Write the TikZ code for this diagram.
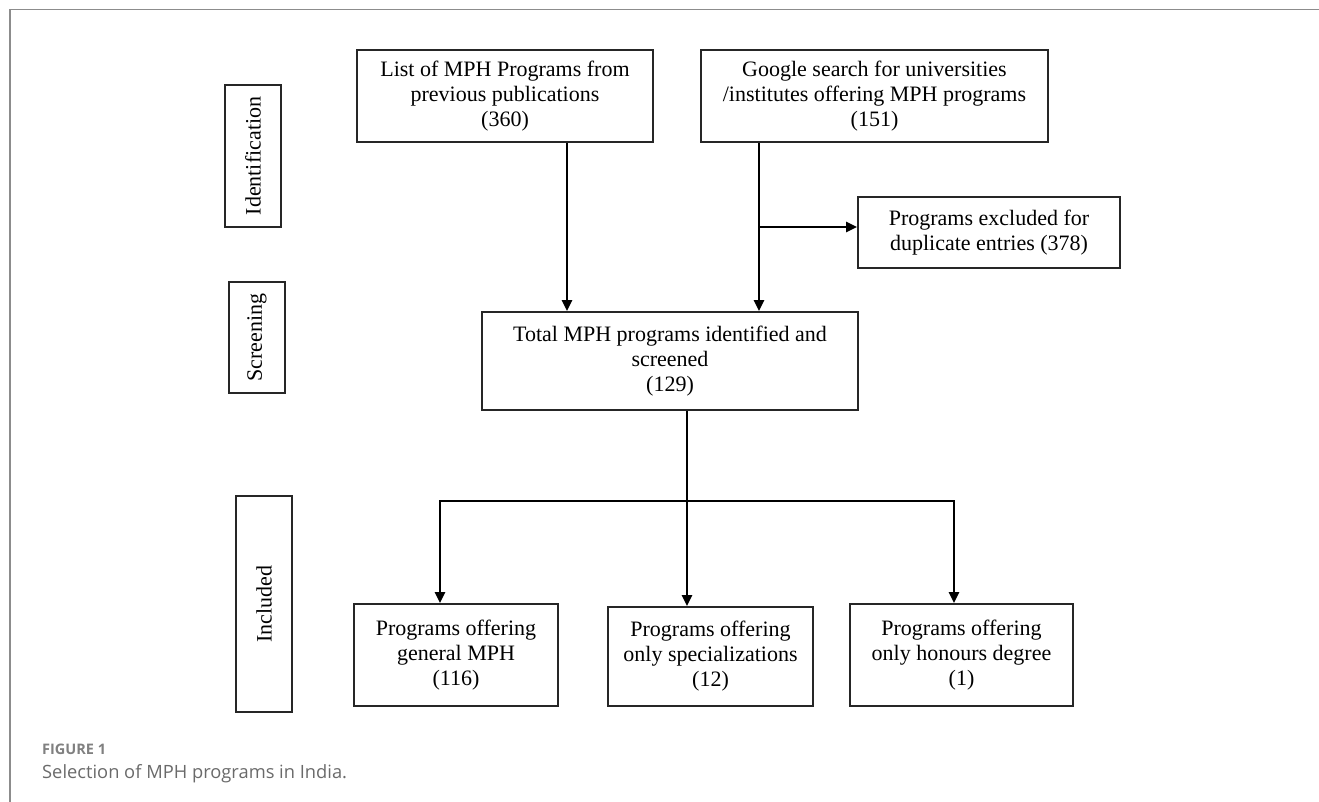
\documentclass[tikz,border=0pt]{standalone}
\usepackage{fontspec}
\setmainfont{Liberation Serif}
\newfontfamily\capfont{Open Sans}
\usetikzlibrary{arrows.meta}
\definecolor{capgray}{HTML}{6A6A6A}
\definecolor{framegray}{HTML}{8C8C8C}
\tikzset{
  box/.style={draw=black!85, line width=1.8pt, align=center, inner sep=0pt,
    font=\fontsize{22}{25}\selectfont},
  side/.style={box, rotate=90, minimum height=56pt},
  arr/.style={line width=2.6pt, -{Triangle[length=11pt,width=10pt]}},
  link/.style={line width=2.6pt},
}

\begin{document}
\begin{tikzpicture}[x=1pt,y=-1pt]
          \useasboundingbox (0,0) rectangle (1319,802);
          \draw[framegray, line width=1.6pt] (10,802) -- (10,9.5) -- (1319,9.5);

          \node[side, minimum width=142pt] (ident) at (253,156) {Identification};
          \node[side, minimum width=111pt] (screen) at (257,337.5) {Screening};
          \node[side, minimum width=216pt] (incl) at (264,604) {Included};

          \node[box, minimum width=296pt, minimum height=92pt] (list) at (505,96)
            {List of MPH Programs from\\previous publications\\(360)};
          \node[box, minimum width=347pt, minimum height=92pt] (google) at (874.5,96)
            {Google search for universities\\/institutes offering MPH programs\\(151)};
          \node[box, minimum width=262pt, minimum height=71pt] (excl) at (989,232.5)
            {Programs excluded for\\duplicate entries (378)};
          \node[box, minimum width=376pt, minimum height=98pt] (total) at (670,361)
            {Total MPH programs identified and\\screened\\(129)};
          \node[box, minimum width=204pt, minimum height=102pt] (gen) at (456,655)
            {Programs offering\\general MPH\\(116)};
          \node[box, minimum width=205pt, minimum height=99pt] (spec) at (710.5,656.5)
            {Programs offering\\only specializations\\(12)};
          \node[box, minimum width=223pt, minimum height=102pt] (hon) at (961.5,655)
            {Programs offering\\only honours degree\\(1)};

          \coordinate (a1) at (567,0);
          \coordinate (a2) at (759,0);
          \coordinate (br) at (759,227);
          \coordinate (a3) at (687,0);
          \coordinate (bar) at (0,501);
          \coordinate (b1) at (440,0);
          \coordinate (b3) at (954,0);

          \draw[arr] (list.south -| a1) -- (total.north -| a1);
          \draw[arr] (google.south -| a2) -- (total.north -| a2);
          \draw[arr] (br) -- (excl.west |- br);
          \draw[link] (total.south -| a3) -- (bar -| a3);
          \draw[link, line cap=rect] (bar -| b1) -- (bar -| b3);
          \draw[arr] (bar -| b1) -- (gen.north -| b1);
          \draw[arr] (bar -| a3) -- (spec.north -| a3);
          \draw[arr] (bar -| b3) -- (hon.north -| b3);

          \node[anchor=base west, inner sep=0pt, text=capgray!85,
            font=\capfont\bfseries\fontsize{14.5}{17}\selectfont]
            (figlbl) at (42,754) {FIGURE 1};
          \node[anchor=base west, inner sep=0pt, text=capgray,
            font=\capfont\fontsize{18.3}{21}\selectfont]
            (figcap) at (42,778) {Selection of MPH programs in India.};
\end{tikzpicture}
\end{document}
